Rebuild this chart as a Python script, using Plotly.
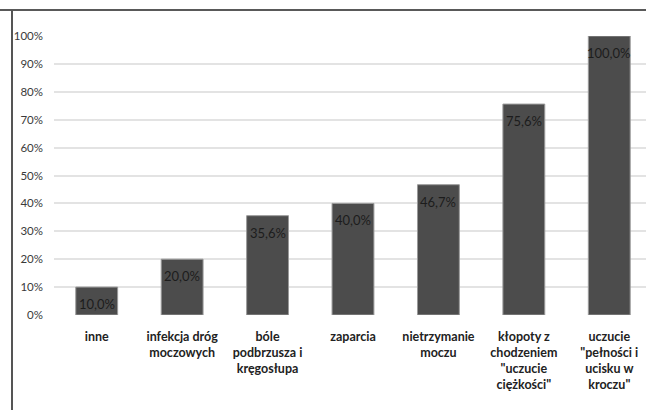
import plotly.graph_objects as go

categories = [
    "inne",
    "infekcja dróg<br>moczowych",
    "bóle<br>podbrzusza i<br>kręgosłupa",
    "zaparcia",
    "nietrzymanie<br>moczu",
    "kłopoty z<br>chodzeniem<br>\"uczucie<br>ciężkości\"",
    "uczucie<br>\"pełności i<br>ucisku w<br>kroczu\"",
]
values = [0.100, 0.200, 0.356, 0.400, 0.467, 0.756, 1.000]
y_ticks = [0, 0.1, 0.2, 0.3, 0.4, 0.5, 0.6, 0.7, 0.8, 0.9, 1.0]

FONT = "Lato, 'Open Sans', sans-serif"


def fmt(v):
    return f"{v * 100:.1f}%".replace(".", ",")


fig = go.Figure(
    go.Bar(
        x=categories,
        y=values,
        width=0.49,
        marker=dict(color="#4c4c4c", line=dict(color="#9a9a9a", width=1)),
        cliponaxis=False,
        hoverinfo="skip",
    )
)

annotations = [
    dict(x=c, y=v, xref="x", yref="y", text=fmt(v), showarrow=False,
         yanchor="top", yshift=-7,
         font=dict(family=FONT, size=13, color="#1c1c1c"))
    for c, v in zip(categories, values)
]

fig.update_layout(
    width=646,
    height=410,
    margin=dict(l=54, r=0, t=36, b=95),
    paper_bgcolor="white",
    plot_bgcolor="white",
    separators=", ",
    showlegend=False,
    font=dict(family=FONT, color="#333333"),
    annotations=annotations,
    xaxis=dict(
        range=[-0.5, 6.43],
        showgrid=False,
        showline=False,
        ticks="",
        ticklabelstandoff=12,
        tickfont=dict(family=FONT, size=12.5, color="#222222", weight="bold"),
        tickangle=0,
    ),
    yaxis=dict(
        range=[0, 1.0],
        tickvals=y_ticks,
        tickformat=".0%",
        showgrid=True,
        gridcolor="#e3e3e3",
        gridwidth=1.5,
        zeroline=False,
        showline=False,
        ticks="",
        ticklabelstandoff=10,
        tickfont=dict(family=FONT, size=11.5, color="#3a3a3a"),
    ),
    shapes=[
        dict(type="line", xref="paper", yref="paper",
             x0=-54 / 592, x1=1.0, y0=1 + 26 / 279, y1=1 + 26 / 279,
             line=dict(color="#222222", width=1.5)),
        dict(type="line", xref="paper", yref="paper",
             x0=-42 / 592, x1=-42 / 592, y0=1 + 26 / 279, y1=-95 / 279,
             line=dict(color="#555555", width=2)),
    ],
)

fig.write_html("out.html")
